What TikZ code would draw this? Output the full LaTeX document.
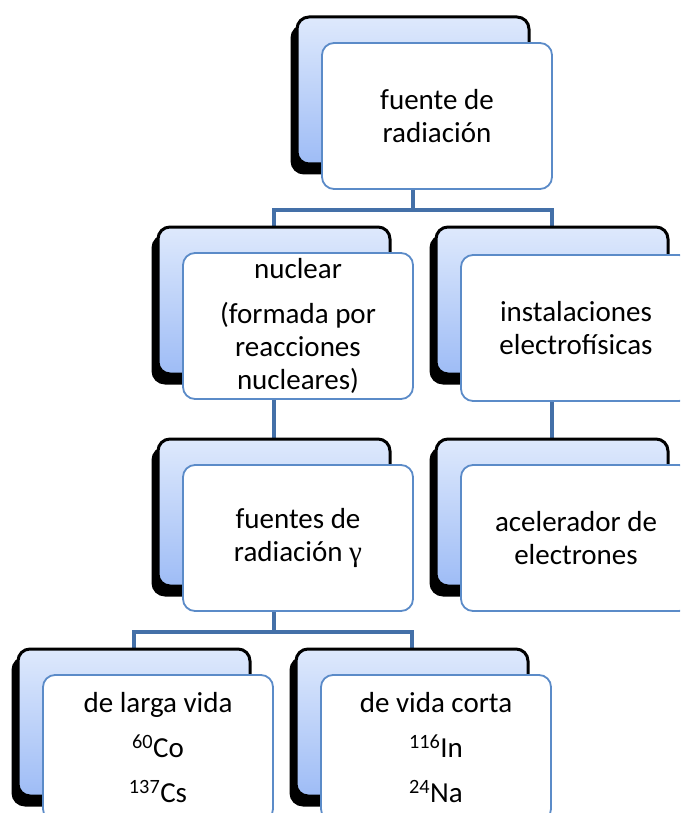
\documentclass[tikz,border=0pt]{standalone}
\usepackage{fontspec}
\setmainfont{Carlito}
\newfontfamily\grkfont{Liberation Serif}
\usetikzlibrary{shadows,backgrounds}
\definecolor{conncol}{RGB}{68,112,168}
\definecolor{boxedge}{RGB}{91,139,200}
\definecolor{gradtop}{RGB}{222,233,252}
\definecolor{gradbot}{RGB}{158,188,246}
\begin{document}
\begin{tikzpicture}[x=1pt,y=-1pt,
  backbox/.style={draw=black, line width=3pt, rounded corners=12pt,
    minimum width=232pt, minimum height=147pt, inner sep=0pt, outer sep=0pt,
    top color=gradtop, bottom color=gradbot,
    general shadow={fill=black, draw=black, line width=3pt, shadow xshift=-5pt, shadow yshift=-9pt}},
  frontbox/.style={draw=boxedge, line width=1.8pt, fill=white, rounded corners=12pt,
    minimum width=230pt, minimum height=146pt, inner sep=2pt, outer sep=0pt,
    align=center, font=\fontsize{29}{33}\selectfont},
  conn/.style={draw=conncol, line width=4.6pt}]
\useasboundingbox (0,0) rectangle (680,813);
\clip (0,0) rectangle (680,813);

\node[backbox] (b1) at (413,90.5) {};
\node[frontbox] (f1) at (437,116) {fuente de\\radiación};
\node[backbox] (b2) at (274,300.5) {};
\node[frontbox] (f2) at (298,326) {nuclear\\[12pt](formada por\\reacciones\\nucleares)};
\node[backbox] (b3) at (552,300.5) {};
\node[frontbox] (f3) at (576,328) {instalaciones\\electrofísicas};
\node[backbox] (b4) at (274,512.5) {};
\node[frontbox] (f4) at (298,538) {fuentes de\\radiación {\grkfont γ}};
\node[backbox] (b5) at (552,512.5) {};
\node[frontbox] (f5) at (576,538) {acelerador de\\electrones};
\node[backbox] (b6) at (134,722.5) {};
\node[frontbox] (f6) at (158,748) {de larga vida\\[12pt]\textsuperscript{60}Co\\[12pt]\textsuperscript{137}Cs};
\node[backbox] (b7) at (412,722.5) {};
\node[frontbox] (f7) at (436,748) {de vida corta\\[12pt]\textsuperscript{116}In\\[12pt]\textsuperscript{24}Na};

\begin{scope}[on background layer]
  \fill[white] (0,0) rectangle (680,813);
  \coordinate (j1) at (b1.center |- 0,210);
  \coordinate (j2) at (b4.center |- 0,632);
  \draw[conn] (b1.center) -- (j1);
  \draw[conn] (b2.center) |- (j1) -| (b3.center);
  \draw[conn] (b2.center) -- (b4.center);
  \draw[conn] (b3.center) -- (b5.center);
  \draw[conn] (b4.center) -- (j2);
  \draw[conn] (b6.center) |- (j2) -| (b7.center);
\end{scope}
\end{tikzpicture}
\end{document}
